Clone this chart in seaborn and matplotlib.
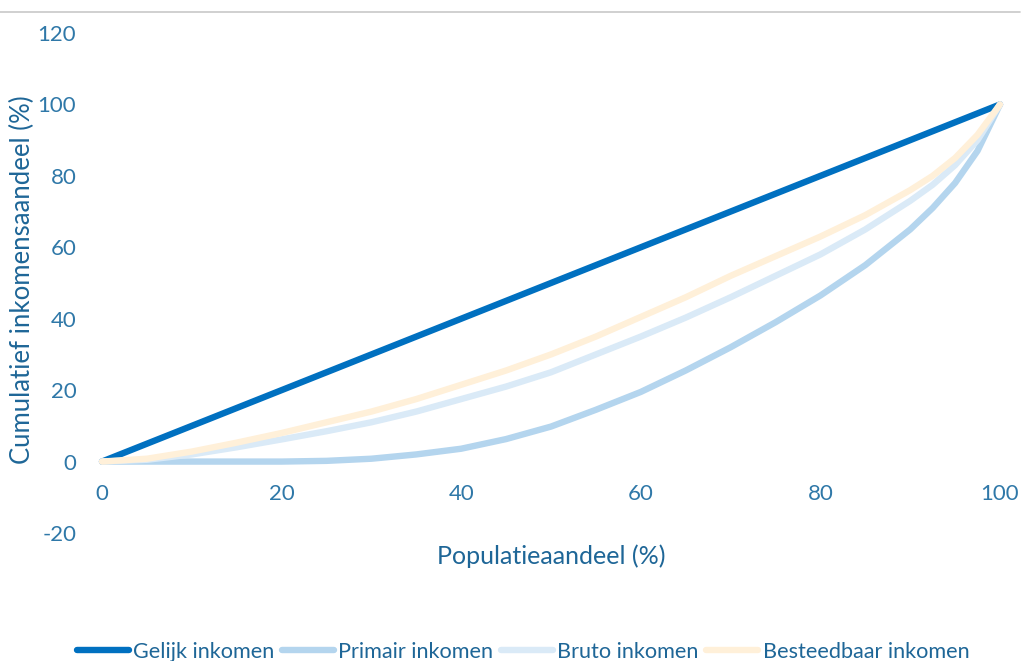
import matplotlib
matplotlib.use("Agg")
import matplotlib.pyplot as plt
from matplotlib.lines import Line2D
import numpy as np
import pandas as pd
import seaborn as sns

# population share (%)
populatie = [0, 5, 10, 15, 20, 25, 30, 35, 40, 45, 50, 55, 60, 65, 70, 75, 80, 85, 90, 92.5, 95, 97.5, 100]

gelijk = [0, 5, 10, 15, 20, 25, 30, 35, 40, 45, 50, 55, 60, 65, 70, 75, 80, 85, 90, 92.5, 95, 97.5, 100]
primair = [0, 0, 0, 0, 0, 0.2, 0.8, 2, 3.6, 6.3, 9.8, 14.5, 19.5, 25.5, 32, 39, 46.5, 55, 65, 71, 78, 87, 100]
bruto = [0, 0.5, 2, 4, 6.2, 8.5, 11, 14, 17.5, 21, 25, 30, 35, 40.3, 46, 52, 58, 65, 73, 77.5, 83, 90, 100]
besteedbaar = [0, 0.8, 2.8, 5.3, 8, 11, 14, 17.5, 21.5, 25.5, 30, 35, 40.5, 46, 52, 57.5, 63, 69, 76, 80, 85, 91.5, 100]

series_names = ["Gelijk inkomen", "Primair inkomen", "Bruto inkomen", "Besteedbaar inkomen"]
colors = ["#0070C0", "#B4D5EE", "#DAEAF7", "#FFF0D9"]

y_ticks = [-20, 0, 20, 40, 60, 80, 100, 120]
x_ticks = [0, 20, 40, 60, 80, 100]

df = pd.DataFrame({
    "x": populatie * 4,
    "y": gelijk + primair + bruto + besteedbaar,
    "reeks": np.repeat(series_names, len(populatie)),
})

sns.set_style("white")
plt.rcParams["font.family"] = ["Lato", "DejaVu Sans"]
plt.rcParams["axes.unicode_minus"] = False

tick_color = "#2F78A8"
label_color = "#1E6697"

fig = plt.figure(figsize=(10.26, 6.61), dpi=100)
ax = fig.add_axes([102 / 1026, 1 - 533 / 661, 898 / 1026, 500 / 661])

sns.lineplot(data=df, x="x", y="y", hue="reeks", hue_order=series_names,
             palette=colors, linewidth=4.6, ax=ax, legend=False,
             sort=False, estimator=None)
for ln in ax.lines:
    ln.set_solid_capstyle("round")
    ln.set_solid_joinstyle("round")
    ln.set_clip_on(False)

ax.set_xlim(0, 100)
ax.set_ylim(-20, 120)
ax.set_xticks(x_ticks)
ax.set_yticks(y_ticks)
for s in ax.spines.values():
    s.set_visible(False)
ax.spines["bottom"].set_position(("data", 0))
ax.tick_params(axis="both", length=0, labelsize=16, labelcolor=tick_color)
ax.tick_params(axis="x", pad=16.5)
ax.tick_params(axis="y", pad=18.5)
ax.grid(False)

ax.set_xlabel("")
ax.set_ylabel("")
fig.text(551 / 1026, 1 - 556 / 661, "Populatieaandeel (%)", ha="center", va="center",
         fontsize=18, color=label_color)
fig.text(22 / 1026, 1 - 280 / 661, "Cumulatief inkomensaandeel (%)", ha="center", va="center",
         rotation=90, fontsize=18.5, color=label_color)

# thin grey rule at the top
fig.add_artist(Line2D([0, 1020 / 1026], [1 - 12 / 661] * 2, color="#C8C8C8", linewidth=1.2,
                      transform=fig.transFigure))

handles = [Line2D([0], [0], color=c, linewidth=4.6, solid_capstyle="round") for c in colors]
fig.legend(handles, series_names, loc="center", bbox_to_anchor=(523 / 1026, 1 - 652 / 661), ncol=4,
           frameon=False, fontsize=15.6, labelcolor=label_color, handlelength=2.4,
           handletextpad=0.2, columnspacing=0.35, borderaxespad=0)

fig.savefig("out.png", dpi=100)
